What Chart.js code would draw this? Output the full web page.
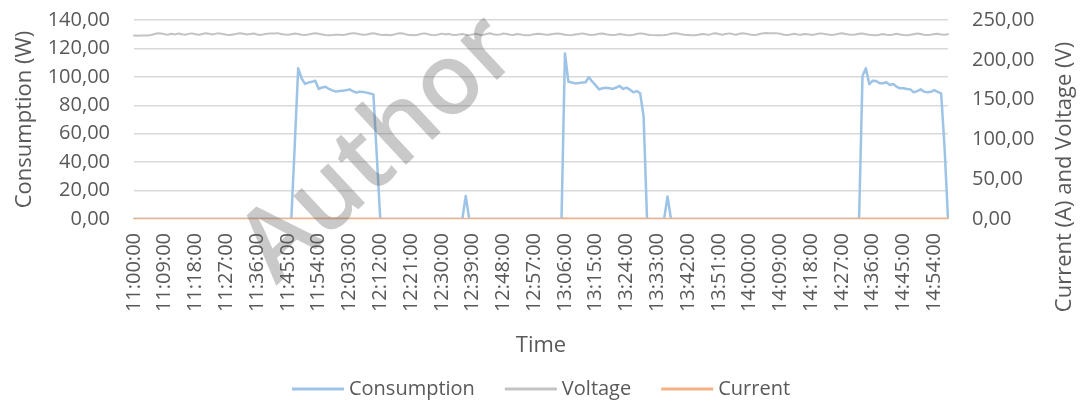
<!DOCTYPE html>
<html>
<head>
<meta charset="utf-8">
<title>Consumption, voltage and current</title>
<script src="https://cdn.jsdelivr.net/npm/chart.js@4/dist/chart.umd.min.js"></script>
<style>
  html, body { margin: 0; padding: 0; background: #fff; }
  #chart { display: block; }
</style>
</head>
<body>
<canvas id="chart" width="1081" height="403"></canvas>
<script>
/* ── DATA ── */
const startHour = 11;
const pointCount = 239;   // one reading a minute, 11:00:00 .. 14:58:00

const tickLabels = [
  '11:00:00', '11:09:00', '11:18:00', '11:27:00', '11:36:00', '11:45:00', '11:54:00',
  '12:03:00', '12:12:00', '12:21:00', '12:30:00', '12:39:00', '12:48:00', '12:57:00',
  '13:06:00', '13:15:00', '13:24:00', '13:33:00', '13:42:00', '13:51:00', '14:00:00',
  '14:09:00', '14:18:00', '14:27:00', '14:36:00', '14:45:00', '14:54:00'
];

const consumption = [
  0, 0, 0, 0, 0, 0, 0, 0, 0, 0,
  0, 0, 0, 0, 0, 0, 0, 0, 0, 0,
  0, 0, 0, 0, 0, 0, 0, 0, 0, 0,
  0, 0, 0, 0, 0, 0, 0, 0, 0, 0,
  0, 0, 0, 0, 0, 0, 0, 52, 106, 99,
  95, 96, 96.5, 97.3, 91.5, 92.5, 93, 91.5, 90.5, 89.6,
  90, 90.3, 90.5, 91.2, 90, 88.9, 89.6, 89.3, 88.9, 88.3,
  87.7, 44, 0, 0, 0, 0, 0, 0, 0, 0,
  0, 0, 0, 0, 0, 0, 0, 0, 0, 0,
  0, 0, 0, 0, 0, 0, 0, 16.2, 0, 0,
  0, 0, 0, 0, 0, 0, 0, 0, 0, 0,
  0, 0, 0, 0, 0, 0, 0, 0, 0, 0,
  0, 0, 0, 0, 0, 0, 116.5, 96.6, 96, 95.4,
  95.6, 96, 96.2, 99.7, 96.6, 94, 91.2, 92, 92.4, 92,
  91.5, 92.5, 93.6, 91.5, 92.4, 91, 89.1, 90, 88.4, 72,
  0, 0, 0, 0, 0, 0, 15.8, 0, 0, 0,
  0, 0, 0, 0, 0, 0, 0, 0, 0, 0,
  0, 0, 0, 0, 0, 0, 0, 0, 0, 0,
  0, 0, 0, 0, 0, 0, 0, 0, 0, 0,
  0, 0, 0, 0, 0, 0, 0, 0, 0, 0,
  0, 0, 0, 0, 0, 0, 0, 0, 0, 0,
  0, 0, 0, 100.6, 106, 94.8, 97.3, 97.1, 95.5, 95.5,
  96.2, 94.3, 95, 93, 92, 92, 91.5, 91.2, 89.1, 90,
  91.2, 89.6, 89.1, 89.5, 90.7, 89.5, 88.4, 50, 0
];

const voltage = [
  230.4, 230.3, 230.5, 230.6, 230.5, 231.2, 232.4, 233.3, 233.0, 232.2,
  231.6, 232.8, 231.9, 233.1, 232.0, 231.4, 232.6, 233.2, 232.1, 231.5,
  232.4, 233.3, 232.6, 231.8, 232.9, 233.2, 232.3, 231.6, 231.2, 231.9,
  232.6, 233.4, 232.7, 231.8, 232.3, 233.0, 231.7, 231.3, 232.0, 232.8,
  233.2, 232.9, 233.5, 232.4, 231.7, 231.5, 232.2, 233.0, 232.4, 231.6,
  231.3, 231.9, 232.8, 233.4, 232.6, 231.9, 231.2, 230.9, 231.1, 231.6,
  231.4, 231.2, 231.9, 232.7, 233.5, 233.1, 232.2, 231.6, 231.9, 232.8,
  233.4, 232.5, 231.6, 231.2, 231.5, 230.9, 231.7, 232.9, 233.3, 232.6,
  231.5, 231.1, 230.7, 231.4, 232.6, 233.2, 232.0, 231.2, 231.0, 231.8,
  232.9, 231.8, 232.6, 231.5, 231.2, 231.7, 232.4, 231.4, 231.0, 231.8,
  232.7, 231.6, 231.3, 232.3, 233.4, 232.2, 231.5, 231.9, 233.0, 232.4,
  231.6, 231.2, 232.5, 231.8, 231.0, 230.8, 231.3, 232.1, 232.8, 232.4,
  231.7, 231.4, 232.2, 232.6, 232.9, 232.5, 231.6, 231.0, 231.3, 231.9,
  232.5, 233.2, 232.3, 231.6, 231.2, 231.8, 232.7, 233.1, 232.0, 231.4,
  231.1, 231.6, 232.3, 231.7, 231.2, 230.9, 231.5, 232.4, 233.2, 232.8,
  231.9, 231.3, 231.0, 230.8, 230.9, 231.1, 231.6, 232.7, 233.4, 233.0,
  232.1, 231.4, 231.2, 230.9, 230.8, 231.4, 232.5, 232.1, 231.3, 232.6,
  233.3, 232.4, 231.6, 232.5, 233.2, 232.3, 231.5, 232.7, 233.4, 232.6,
  231.7, 231.3, 231.6, 232.5, 233.4, 233.6, 233.5, 233.4, 233.2, 232.6,
  231.5, 231.1, 231.7, 232.6, 231.9, 231.4, 232.5, 232.0, 231.3, 231.9,
  232.6, 233.2, 232.4, 231.7, 231.3, 231.9, 232.8, 233.3, 232.5, 231.8,
  231.4, 231.7, 232.6, 233.1, 232.2, 231.6, 231.1, 230.8, 231.5, 232.3,
  231.6, 231.2, 231.8, 232.7, 231.9, 231.3, 230.9, 231.4, 232.2, 232.9,
  232.4, 231.6, 231.2, 231.5, 232.3, 232.8, 231.9, 231.4, 232.1
];

const current = [
  0, 0, 0, 0, 0, 0, 0, 0, 0, 0,
  0, 0, 0, 0, 0, 0, 0, 0, 0, 0,
  0, 0, 0, 0, 0, 0, 0, 0, 0, 0,
  0, 0, 0, 0, 0, 0, 0, 0, 0, 0,
  0, 0, 0, 0, 0, 0, 0, 0.21, 0.46, 0.43,
  0.41, 0.42, 0.42, 0.42, 0.40, 0.40, 0.41, 0.40, 0.39, 0.39,
  0.39, 0.39, 0.39, 0.40, 0.39, 0.39, 0.39, 0.39, 0.39, 0.38,
  0.38, 0.19, 0, 0, 0, 0, 0, 0, 0, 0,
  0, 0, 0, 0, 0, 0, 0, 0, 0, 0,
  0, 0, 0, 0, 0, 0, 0, 0.07, 0, 0,
  0, 0, 0, 0, 0, 0, 0, 0, 0, 0,
  0, 0, 0, 0, 0, 0, 0, 0, 0, 0,
  0, 0, 0, 0, 0, 0, 0.50, 0.42, 0.42, 0.41,
  0.42, 0.42, 0.42, 0.43, 0.42, 0.41, 0.40, 0.40, 0.40, 0.40,
  0.40, 0.40, 0.41, 0.40, 0.40, 0.40, 0.39, 0.39, 0.38, 0.31,
  0, 0, 0, 0, 0, 0, 0.07, 0, 0, 0,
  0, 0, 0, 0, 0, 0, 0, 0, 0, 0,
  0, 0, 0, 0, 0, 0, 0, 0, 0, 0,
  0, 0, 0, 0, 0, 0, 0, 0, 0, 0,
  0, 0, 0, 0, 0, 0, 0, 0, 0, 0,
  0, 0, 0, 0, 0, 0, 0, 0, 0, 0,
  0, 0, 0, 0.44, 0.46, 0.41, 0.42, 0.42, 0.41, 0.41,
  0.42, 0.41, 0.41, 0.40, 0.40, 0.40, 0.40, 0.40, 0.39, 0.39,
  0.40, 0.39, 0.39, 0.39, 0.39, 0.39, 0.38, 0.22, 0
];

/* ── CATEGORIES (hh:mm:00, one a minute) ── */
const pad = n => String(n).padStart(2, '0');
const categories = [];
for (let i = 0; i < pointCount; i++) {
  categories.push(`${pad(startHour + Math.floor(i / 60))}:${pad(i % 60)}:00`);
}

/* ── STYLE ── */
const FONT = "'Open Sans', sans-serif";
const TEXT = '#595959';
const GRID = '#d9d9d9';
const comma = v => v.toFixed(2).replace('.', ',');

Chart.defaults.font.family = FONT;
Chart.defaults.color = TEXT;

/* right axis title (reads bottom-to-top), legend and watermark */
const extras = {
  id: 'extras',
  afterDraw(chart) {
    const { ctx } = chart;

    ctx.save();
    ctx.fillStyle = TEXT;
    ctx.font = `22px ${FONT}`;
    ctx.translate(1065, 177);
    ctx.rotate(-Math.PI / 2);
    ctx.textAlign = 'center';
    ctx.textBaseline = 'middle';
    ctx.fillText('Current (A) and Voltage (V)', 0, 0);
    ctx.restore();

    /* legend */
    ctx.save();
    ctx.font = `20px ${FONT}`;
    ctx.textBaseline = 'middle';
    const lineLen = 52, gapText = 5, gapItem = 30, y = 389;
    const items = chart.data.datasets.map(ds => ({
      text: ds.label, color: ds.borderColor, w: lineLen + gapText + ctx.measureText(ds.label).width
    }));
    const total = items.reduce((s, it) => s + it.w, 0) + gapItem * (items.length - 1);
    let x = (chart.chartArea.left + chart.chartArea.right) / 2 - total / 2;
    items.forEach(it => {
      ctx.strokeStyle = it.color;
      ctx.lineWidth = 3;
      ctx.beginPath();
      ctx.moveTo(x, y);
      ctx.lineTo(x + lineLen, y);
      ctx.stroke();
      ctx.fillStyle = TEXT;
      ctx.fillText(it.text, x + lineLen + gapText, y);
      x += it.w + gapItem;
    });
    ctx.restore();

    /* watermark */
    ctx.save();
    ctx.translate(380, 150);
    ctx.rotate(-43 * Math.PI / 180);
    ctx.font = `600 100px ${FONT}`;
    ctx.textAlign = 'center';
    ctx.textBaseline = 'middle';
    ctx.fillStyle = 'rgba(90,90,90,0.33)';
    ctx.fillText('Author', 0, 0);
    ctx.restore();
  }
};

new Chart(document.getElementById('chart'), {
  type: 'line',
  data: {
    labels: categories,
    datasets: [
      { label: 'Consumption', data: consumption, yAxisID: 'y',  borderColor: '#9dc3e6', borderWidth: 2.5, order: 2 },
      { label: 'Voltage',     data: voltage,     yAxisID: 'y1', borderColor: '#c3c3c3', borderWidth: 2,   order: 1 },
      { label: 'Current',     data: current,     yAxisID: 'y1', borderColor: '#f4b183', borderWidth: 2.5, order: 0 }
    ]
  },
  options: {
    responsive: false,
    devicePixelRatio: 1,
    animation: false,
    layout: { padding: { top: 20, left: 0, right: 0, bottom: 0 } },
    elements: {
      point: { radius: 0 },
      line: { tension: 0, fill: false, borderCapStyle: 'round', borderJoinStyle: 'round' }
    },
    plugins: {
      legend: { display: false },
      tooltip: { enabled: false }
    },
    scales: {
      x: {
        offset: false,
        grid: { display: false, drawTicks: false },
        border: { display: false },
        ticks: {
          autoSkip: false, minRotation: 90, maxRotation: 90, padding: 14,
          font: { size: 20 }, color: TEXT,
          callback: (v, i) => tickLabels.includes(categories[i]) ? categories[i] : null
        },
        title: { display: true, text: 'Time', font: { size: 22 }, color: TEXT, padding: { top: 0, bottom: 44 } },
        afterFit: s => { s.height = 184; }
      },
      /* tick gap comes from an invisible tick mark, so the label padding does not push the plot down */
      y: {
        position: 'left', min: 0, max: 140,
        grid: { color: GRID, lineWidth: 1.5, drawTicks: true, tickLength: 24, tickColor: 'rgba(0,0,0,0)' },
        border: { display: false },
        ticks: { stepSize: 20, autoSkip: false, padding: 0, font: { size: 20 }, color: TEXT, callback: v => comma(v) },
        title: { display: true, text: 'Consumption (W)', font: { size: 22 }, color: TEXT, padding: { top: 12, bottom: 0 } },
        afterFit: s => { s.width = 134; }
      },
      y1: {
        position: 'right', min: 0, max: 250,
        grid: { display: false, drawTicks: true, tickLength: 24 },
        border: { display: false },
        ticks: { stepSize: 50, autoSkip: false, padding: 0, font: { size: 20 }, color: TEXT, callback: v => comma(v) },
        afterFit: s => { s.width = 133; }
      }
    }
  },
  plugins: [extras]
});
</script>
</body>
</html>
